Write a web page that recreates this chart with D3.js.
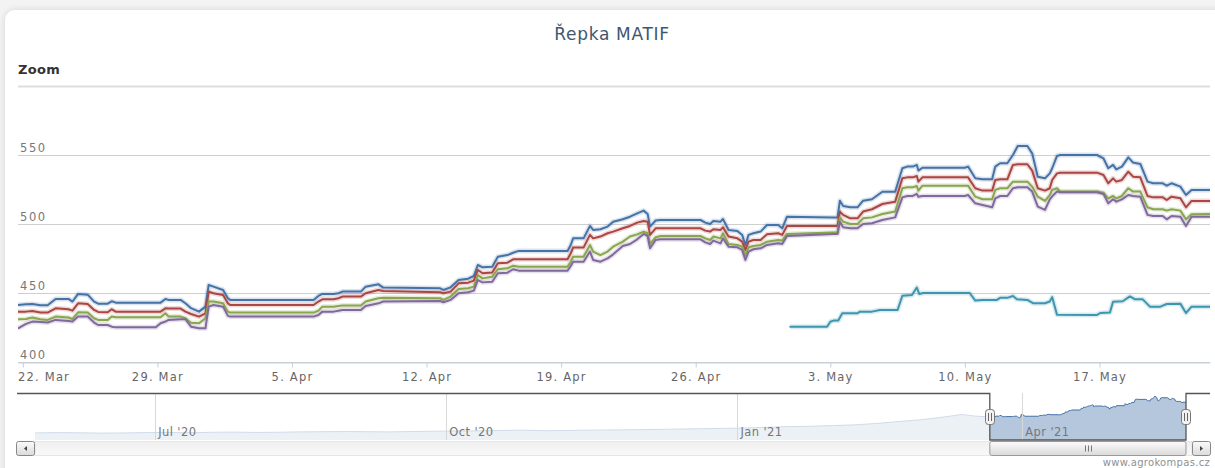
<!DOCTYPE html>
<html>
<head>
<meta charset="utf-8">
<script src="https://cdn.jsdelivr.net/npm/d3@7"></script>
<style>
  body { margin: 0; background: #f3f3f3; overflow: hidden; }
  svg { display: block; font-family: "DejaVu Sans", Verdana, sans-serif; }
</style>
</head>
<body>
<script>
// time points shared by the four main contracts (2021, "MM-DD HH:MM")
const times = [
  "03-21 18:00","03-22 04:00","03-22 12:00","03-22 22:00","03-23 07:00","03-23 17:00","03-24 09:00","03-24 14:00",
  "03-24 21:00","03-25 09:00","03-25 17:00","03-25 22:00","03-26 10:00","03-26 15:00","03-26 20:00","03-28 22:00",
  "03-29 04:00","03-29 10:00","03-29 14:00","03-30 05:00","03-30 11:00","03-30 18:00","03-31 04:00","03-31 12:00",
  "03-31 16:00","03-31 22:00","04-01 10:00","04-01 16:00","04-01 19:00","04-06 03:00","04-06 09:00","04-06 14:00",
  "04-07 04:00","04-07 10:00","04-07 15:00","04-08 14:00","04-08 20:00","04-09 12:00","04-09 18:00","04-12 17:00",
  "04-12 21:00","04-13 06:00","04-13 16:00","04-14 04:00","04-14 11:00","04-14 16:00","04-14 22:00","04-15 10:00",
  "04-15 17:00","04-16 05:00","04-16 12:00","04-16 19:00","04-19 08:00","04-19 12:00","04-19 15:00","04-20 04:00",
  "04-20 12:00","04-20 16:00","04-21 01:00","04-21 10:00","04-21 17:00","04-22 05:00","04-22 14:00","04-22 23:00",
  "04-23 07:00","04-23 12:00","04-23 15:00","04-23 22:00","04-24 04:00","04-26 06:00","04-26 12:00","04-26 18:00",
  "04-26 22:00","04-27 07:00","04-27 10:00","04-27 17:00","04-28 04:00","04-28 10:00","04-28 14:00","04-28 18:00",
  "04-29 00:00","04-29 09:00","04-29 17:00","04-30 07:00","04-30 12:00","04-30 18:00","05-03 04:00","05-03 09:00",
  "05-03 12:00","05-03 16:00","05-04 01:00","05-04 10:00","05-04 17:00","05-05 04:00","05-05 17:00","05-06 09:00",
  "05-06 18:00","05-07 00:00","05-07 07:00","05-07 12:00","05-07 14:00","05-07 19:00","05-10 00:00","05-10 04:00",
  "05-10 13:00","05-10 22:00","05-11 10:00","05-11 14:00","05-11 20:00","05-12 05:00","05-12 12:00","05-12 18:00",
  "05-13 06:00","05-13 12:00","05-13 19:00","05-14 04:00","05-14 10:00","05-14 13:00","05-14 19:00","05-14 23:00",
  "05-16 21:00","05-17 05:00","05-17 11:00","05-17 17:00","05-17 21:00","05-18 04:00","05-18 12:00","05-18 18:00",
  "05-19 03:00","05-19 12:00","05-19 19:00","05-20 07:00","05-20 12:00","05-20 18:00","05-21 05:00","05-21 12:00",
  "05-21 19:00","05-22 18:00"
];

const valuesA = [
  441.3,441.8,442.0,441.1,441.1,445.7,445.7,443.8,449.3,448.8,443.8,442.3,442.3,444.0,443.0,443.0,
  443.0,445.7,445.0,445.0,442.6,439.0,436.5,440.1,455.8,454.6,452.2,446.2,445.0,445.0,447.9,449.3,
  449.3,449.8,451.0,451.0,454.6,456.3,453.9,453.4,452.2,454.1,459.4,460.4,462.3,470.3,468.6,469.1,
  476.3,477.5,479.2,480.5,480.5,484.8,489.6,489.6,498.6,495.7,496.2,498.1,501.7,503.4,505.3,507.7,
  509.7,507.3,498.1,502.5,502.9,502.9,501.0,500.0,502.2,501.7,503.6,495.7,495.0,492.1,484.8,492.1,
  493.3,494.5,499.3,499.3,496.9,505.3,504.8,504.8,516.9,513.1,512.1,512.1,516.9,517.9,523.4,523.4,
  540.4,541.6,541.6,542.8,538.7,540.8,540.8,541.6,533.1,532.4,532.4,541.6,544.0,544.0,550.0,556.5,
  556.5,551.2,534.3,533.1,536.7,540.4,549.3,550.0,550.0,547.6,540.4,542.8,539.6,541.6,548.3,544.5,
  543.5,530.7,529.5,529.5,527.8,529.5,527.1,521.0,524.6,524.6
];
const valuesB = [
  436.5,436.5,437.0,435.8,435.8,438.9,438.2,437.2,442.5,442.0,437.7,436.3,436.0,438.2,436.5,436.5,
  436.5,438.9,438.7,438.7,436.5,434.8,432.9,435.3,451.0,449.8,448.6,442.5,441.3,441.3,443.8,445.4,
  445.4,446.2,447.4,447.4,449.8,452.2,451.5,450.5,449.8,451.0,457.0,457.5,459.0,466.7,464.3,464.8,
  471.5,472.0,474.4,474.4,474.4,478.8,482.9,482.9,492.1,489.6,490.9,493.3,494.5,496.9,498.6,501.0,
  502.2,501.7,492.1,496.9,496.9,496.9,495.2,494.5,496.2,495.7,497.6,490.9,489.6,487.2,481.2,487.2,
  488.4,488.4,492.5,493.3,492.1,498.6,498.6,498.6,509.0,506.6,504.1,504.1,509.0,510.7,514.5,516.2,
  533.1,533.8,533.8,534.8,530.7,533.8,533.8,533.8,525.9,524.2,524.2,531.9,532.4,532.4,542.8,543.3,
  543.3,538.7,525.9,524.2,525.9,531.9,536.7,537.2,537.2,535.5,529.5,533.1,530.7,531.9,537.9,534.3,
  533.8,520.3,519.3,519.3,517.4,519.8,518.6,512.1,516.7,516.7
];
const valuesC = [
  431.0,431.2,432.2,431.0,430.5,432.9,432.2,431.2,436.0,435.8,431.7,430.5,430.5,432.9,432.4,432.4,
  432.4,435.3,432.9,432.9,431.7,428.5,428.1,431.7,443.8,443.8,442.6,436.5,435.8,435.8,437.2,440.1,
  440.1,440.6,440.9,440.9,443.8,446.2,446.6,446.2,445.0,447.4,452.9,453.4,454.6,463.0,460.6,461.8,
  467.2,467.9,469.8,469.1,469.1,472.7,476.3,476.3,484.8,480.0,477.5,480.0,483.6,487.2,490.9,492.5,
  494.5,493.3,485.5,490.4,491.3,491.3,489.6,488.4,490.9,489.6,493.3,485.5,484.8,483.6,477.5,483.1,
  484.1,484.8,487.2,488.4,488.0,492.8,493.8,493.8,504.8,501.7,500.0,500.0,504.1,504.8,507.3,509.0,
  525.9,526.6,526.6,527.5,524.2,527.8,527.8,527.8,519.8,517.9,517.9,524.7,525.9,525.9,530.7,530.7,
  530.7,527.1,519.8,516.7,521.0,524.7,525.9,523.5,523.5,522.7,518.6,520.3,518.6,520.3,525.9,523.5,
  523.5,512.1,510.7,510.7,509.7,510.7,509.7,503.4,507.0,507.3
];
const valuesD = [
  424.4,427.6,429.3,429.0,428.6,430.5,429.7,429.3,432.9,432.9,428.6,426.8,426.8,425.6,425.1,425.1,
  428.1,429.3,430.5,431.0,431.0,425.6,424.4,424.4,440.1,441.3,440.1,433.4,432.9,432.9,434.1,436.5,
  436.5,437.2,437.7,437.7,440.6,442.5,443.8,444.2,443.3,445.0,449.8,450.5,451.7,459.4,457.7,458.2,
  464.3,464.7,467.2,466.2,466.2,469.6,472.7,472.7,480.0,473.9,472.7,475.1,478.0,484.1,485.5,488.9,
  492.8,491.3,482.4,488.4,488.9,488.9,486.7,485.5,488.0,486.0,489.6,483.6,483.1,481.2,473.9,480.0,
  481.7,482.4,484.8,486.0,485.5,491.3,492.8,492.8,501.7,497.6,496.9,496.9,500.0,500.5,502.9,504.8,
  519.3,520.3,520.3,521.8,519.8,520.3,520.3,521.0,515.0,513.8,512.1,518.6,520.3,520.3,525.9,526.6,
  526.6,523.5,512.6,510.2,517.9,520.0,523.5,523.0,523.0,521.8,515.0,517.9,516.2,517.9,521.0,520.3,
  519.8,506.6,505.8,505.8,503.4,505.8,505.3,498.6,505.3,505.3
];

// newest contract, starts trading at the end of April
const timesE = [
  "04-30 22:00","05-02 20:00","05-03 00:00","05-03 04:00","05-03 10:00","05-03 15:00","05-04 10:00","05-04 13:00",
  "05-05 04:00","05-05 14:00","05-06 12:00","05-06 18:00","05-07 06:00","05-07 12:00","05-07 15:00","05-07 20:00",
  "05-10 06:00","05-10 13:00","05-10 22:00","05-11 16:00","05-11 20:00","05-12 05:00","05-12 12:00","05-12 17:00",
  "05-13 06:00","05-13 13:00","05-14 04:00","05-14 10:00","05-14 13:00","05-14 19:00","05-16 21:00","05-17 01:00",
  "05-17 13:00","05-17 17:00","05-18 05:00","05-18 14:00","05-18 20:00","05-19 06:00","05-19 15:00","05-20 04:00",
  "05-20 12:00","05-21 05:00","05-21 12:00","05-21 19:00","05-22 18:00"
];
const valuesE = [
  425.6,425.6,429.2,430.0,430.0,435.3,435.3,436.5,436.5,437.7,437.7,448.0,448.5,454.0,449.3,450.0,
  450.0,444.5,445.0,445.0,446.5,446.5,447.8,445.5,445.0,442.6,442.6,443.8,447.0,434.3,434.1,435.5,
  435.8,443.6,444.0,447.5,445.5,445.4,440.1,440.1,442.0,442.3,435.5,440.1,440.1
];

// older history of the first contract, shown only in the navigator
const navDates = [
  "2020-05-24","2020-05-31","2020-06-07","2020-06-14","2020-06-21","2020-06-28","2020-07-05","2020-07-12",
  "2020-07-19","2020-07-26","2020-08-02","2020-08-09","2020-08-16","2020-08-23","2020-08-30","2020-09-06",
  "2020-09-13","2020-09-20","2020-09-27","2020-10-04","2020-10-11","2020-10-18","2020-10-25","2020-11-01",
  "2020-11-08","2020-11-15","2020-11-22","2020-11-29","2020-12-06","2020-12-13","2020-12-20","2020-12-27",
  "2021-01-03","2021-01-10","2021-01-17","2021-01-24","2021-01-31","2021-02-07","2021-02-14","2021-02-21",
  "2021-02-28","2021-03-07","2021-03-13","2021-03-17"
];
const navValues = [
  350,352,351,349,350,352,353,351,354,355,353,354,356,357,358,357,
  356,358,360,361,362,364,366,363,364,366,367,368,370,372,374,376,
  378,382,386,388,392,396,404,415,425,440,455,446
];

const seriesColors = ["#4572A7", "#AA4643", "#89A54E", "#80699B", "#3D96AE"];
const yTicks = [400, 450, 500, 550, 600];
const title = "Řepka MATIF";

const W = 1215, H = 468;
const plot = { left: 18, right: 1210, top: 86, bottom: 362 };
const nav = { left: 17, right: 1210, top: 393, bottom: 440, dataLeft: 35, dataRight: 1186 };

const parseShort = d3.timeParse("%Y-%m-%d %H:%M");
const parseDay = d3.timeParse("%Y-%m-%d");
const tm = times.map(t => parseShort("2021-" + t));
const tmE = timesE.map(t => parseShort("2021-" + t));

const series = [valuesA, valuesB, valuesC, valuesD].map(vals => vals.map((v, i) => ({ t: tm[i], v })));
series.push(valuesE.map((v, i) => ({ t: tmE[i], v })));

const mainStart = tm[0], mainEnd = tm[tm.length - 1];

const svg = d3.select("body").append("svg").attr("width", W).attr("height", H);
const defs = svg.append("defs");

const shadow = defs.append("filter").attr("id", "cardShadow").attr("x", "-5%").attr("y", "-5%").attr("width", "110%").attr("height", "120%");
shadow.append("feDropShadow").attr("dx", 0).attr("dy", 0).attr("stdDeviation", 3).attr("flood-color", "#000").attr("flood-opacity", 0.13);

svg.append("rect").attr("x", 5).attr("y", 10).attr("width", 1260).attr("height", 500).attr("rx", 10)
  .attr("fill", "#fff").attr("filter", "url(#cardShadow)");

// title + range selector label
svg.append("text").attr("x", 612).attr("y", 40).attr("text-anchor", "middle")
  .attr("font-size", 17).attr("fill", "#3E576F").attr("letter-spacing", 0.7).text(title);
svg.append("text").attr("x", 18).attr("y", 74).attr("font-size", 13).attr("font-weight", "bold")
  .attr("fill", "#333").attr("letter-spacing", 0.3).text("Zoom");

// scales
const x = d3.scaleTime().domain([mainStart, mainEnd]).range([plot.left, plot.right]);
const y = d3.scaleLinear().domain([400, 600]).range([plot.bottom, plot.top]);

// horizontal grid
svg.append("g").selectAll("line").data(yTicks).join("line")
  .attr("x1", plot.left).attr("x2", plot.right)
  .attr("y1", d => Math.round(y(d)) + 0.5).attr("y2", d => Math.round(y(d)) + 0.5)
  .attr("stroke", d => d === 600 ? "#DDD" : "#CFCFCF")
  .attr("stroke-width", d => d === 600 ? 2 : 1);

svg.append("g").selectAll("text").data(yTicks.filter(d => d < 600)).join("text")
  .attr("x", 20).attr("y", d => y(d) - 3)
  .attr("font-size", 11.5).attr("letter-spacing", 1.6).attr("fill", "#777")
  .text(d => d);

// x axis
const xAxisG = svg.append("g").attr("transform", `translate(0,${plot.bottom + 0.5})`);
xAxisG.call(d3.axisBottom(x).ticks(d3.timeMonday.every(1)).tickFormat(d3.timeFormat("%-d. %b"))
  .tickSize(5).tickSizeOuter(0).tickPadding(5));
xAxisG.select(".domain").attr("stroke", "#C0D0E0");
xAxisG.selectAll(".tick line").attr("stroke", "#C0D0E0");
xAxisG.selectAll(".tick text").attr("font-size", 11.5).attr("letter-spacing", 1.2)
  .attr("fill", "#666").attr("font-family", "DejaVu Sans, Verdana, sans-serif");
xAxisG.selectAll(".tick text").each(function () {
  const bb = this.getBBox();
  const tx = +d3.select(this.parentNode).attr("transform").match(/translate\(([-\d.]+)/)[1];
  if (tx + bb.x < plot.left) d3.select(this).attr("x", plot.left - tx - bb.x);
});

// series lines
defs.append("clipPath").attr("id", "plotClip").append("rect")
  .attr("x", plot.left).attr("y", plot.top - 5).attr("width", plot.right - plot.left).attr("height", plot.bottom - plot.top + 5);

const line = d3.line().x(d => x(d.t)).y(d => y(d.v));
const linesG = svg.append("g").attr("clip-path", "url(#plotClip)");
series.forEach((s, i) => {
  linesG.append("path").datum(s).attr("d", line).attr("fill", "none")
    .attr("stroke", seriesColors[i]).attr("stroke-opacity", 0.2).attr("stroke-width", 5)
    .attr("stroke-linejoin", "round");
});
series.forEach((s, i) => {
  linesG.append("path").datum(s).attr("d", line).attr("fill", "none")
    .attr("stroke", seriesColors[i]).attr("stroke-width", 2)
    .attr("stroke-linejoin", "round").attr("stroke-linecap", "round");
});

// navigator
const navData = navDates.map((d, i) => ({ t: parseDay(d), v: navValues[i] })).concat(series[0]);
const nx = d3.scaleTime().domain([navData[0].t, mainEnd]).range([nav.dataLeft, nav.dataRight]);
const ny = d3.scaleLinear().domain([310, 560]).range([nav.bottom, 396]);
const h1 = nx(mainStart), h2 = nx(mainEnd);

const area = d3.area().x(d => nx(d.t)).y0(nav.bottom).y1(d => ny(d.v));
svg.append("path").datum(navData).attr("d", area).attr("fill", seriesColors[0]).attr("fill-opacity", 0.4);
svg.append("path").datum(navData).attr("d", d3.line().x(d => nx(d.t)).y(d => ny(d.v)))
  .attr("fill", "none").attr("stroke", seriesColors[0]).attr("stroke-width", 1);

// mask outside the selected range
svg.append("rect").attr("x", nav.left).attr("y", nav.top).attr("width", h1 - nav.left).attr("height", nav.bottom - nav.top)
  .attr("fill", "#fff").attr("fill-opacity", 0.75);
svg.append("rect").attr("x", h2).attr("y", nav.top).attr("width", nav.right - h2 + 5).attr("height", nav.bottom - nav.top)
  .attr("fill", "#fff").attr("fill-opacity", 0.75);

const navTicks = nx.ticks(d3.timeMonth.every(3)).filter(d => d.getMonth() % 3 === 0);
svg.append("g").selectAll("line").data(navTicks).join("line")
  .attr("x1", d => Math.round(nx(d)) + 0.5).attr("x2", d => Math.round(nx(d)) + 0.5)
  .attr("y1", nav.top).attr("y2", nav.bottom).attr("stroke", "#D8D8D8");
svg.append("g").selectAll("text").data(navTicks).join("text")
  .attr("x", d => nx(d) + 3).attr("y", 436).attr("font-size", 11.5).attr("letter-spacing", 0.4)
  .attr("fill", "#777").text(d3.timeFormat("%b '%y"));

// outline
svg.append("path")
  .attr("d", `M${nav.left},${nav.top + 0.5}H${h1}V${nav.bottom}H${h2}V${nav.top + 0.5}H${nav.right}`)
  .attr("fill", "none").attr("stroke", "#555").attr("stroke-width", 1.3);

// scrollbar
const grad = defs.append("linearGradient").attr("id", "btnGrad").attr("x1", 0).attr("y1", 0).attr("x2", 0).attr("y2", 1);
grad.append("stop").attr("offset", "0%").attr("stop-color", "#FBFBFB");
grad.append("stop").attr("offset", "100%").attr("stop-color", "#DADADA");
const trackGrad = defs.append("linearGradient").attr("id", "trackGrad").attr("x1", 0).attr("y1", 0).attr("x2", 0).attr("y2", 1);
trackGrad.append("stop").attr("offset", "0%").attr("stop-color", "#F0F0F0");
trackGrad.append("stop").attr("offset", "100%").attr("stop-color", "#F8F8F8");

const sbTop = 441, sbH = 14;
svg.append("rect").attr("x", 35).attr("y", sbTop + 0.5).attr("width", 1157).attr("height", sbH)
  .attr("fill", "url(#trackGrad)").attr("stroke", "#E6E6E6");
svg.append("rect").attr("x", h1).attr("y", sbTop + 0.5).attr("width", h2 - h1).attr("height", sbH).attr("rx", 2)
  .attr("fill", "url(#btnGrad)").attr("stroke", "#999");
const cx = Math.round((h1 + h2) / 2) + 0.5;
svg.append("g").selectAll("line").data([-3, 0, 3]).join("line")
  .attr("x1", d => cx + d).attr("x2", d => cx + d).attr("y1", 445.5).attr("y2", 451.5)
  .attr("stroke", "#777");

[[16, -1], [1192, 1]].forEach(([bx, dir]) => {
  svg.append("rect").attr("x", bx + 0.5).attr("y", sbTop + 0.5).attr("width", 18).attr("height", sbH).attr("rx", 2)
    .attr("fill", "url(#btnGrad)").attr("stroke", "#888");
  const ax = bx + 9.5, ay = sbTop + 7.5;
  svg.append("path").attr("d", `M${ax - 1.5 * dir},${ay - 2.5}L${ax + 1.5 * dir},${ay}L${ax - 1.5 * dir},${ay + 2.5}Z`)
    .attr("fill", "#444");
});

// navigator handles
[h1, h2].forEach(hx => {
  const rx0 = Math.round(hx) - 4.5;
  svg.append("rect").attr("x", rx0).attr("y", 409.5).attr("width", 9).attr("height", 15).attr("rx", 3)
    .attr("fill", "#F2F0F0").attr("stroke", "#777");
  svg.append("g").selectAll("line").data([3, 6]).join("line")
    .attr("x1", d => rx0 + d).attr("x2", d => rx0 + d).attr("y1", 413).attr("y2", 421)
    .attr("stroke", "#666");
});

svg.append("text").attr("x", 1210).attr("y", 466).attr("text-anchor", "end")
  .attr("font-size", 10).attr("fill", "#909090").attr("letter-spacing", 0.3).text("www.agrokompas.cz");
</script>
</body>
</html>
